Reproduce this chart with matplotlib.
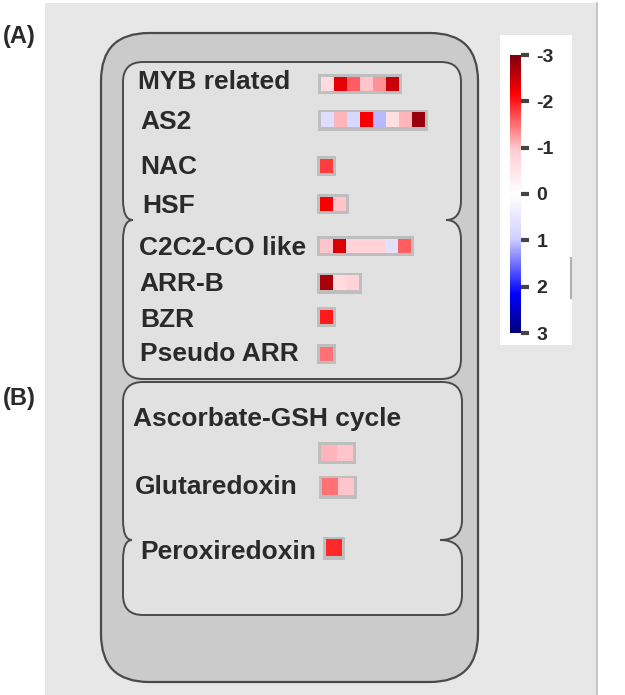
"""MapMan-style overview: transcription factor families (A) and redox genes (B)."""
import matplotlib
matplotlib.use("Agg")
import matplotlib.pyplot as plt
import numpy as np
from matplotlib.colors import LinearSegmentedColormap, Normalize
from matplotlib.patches import FancyBboxPatch, PathPatch, Rectangle
from matplotlib.path import Path

plt.rcParams["font.family"] = ["Liberation Sans", "DejaVu Sans"]

# ---- data (log2 fold change per gene) ----
labels = ["MYB related", "AS2", "NAC", "HSF", "C2C2-CO like", "ARR-B", "BZR",
          "Pseudo ARR", "Ascorbate-GSH cycle", "Glutaredoxin", "Peroxiredoxin"]
myb_related = [-0.7, -2.3, -1.6, -1.0, -1.3, -2.5]
as2 = [0.7, -1.1, 0.8, -2.2, 1.1, -0.6, -1.1, -2.8]
nac = [-1.8]
hsf = [-2.2, -1.0]
c2c2_co_like = [-1.0, -2.4, -0.8, -0.8, -0.8, 0.6, -1.6]
arr_b = [-2.7, -0.7, -0.8]
bzr = [-2.0]
pseudo_arr = [-1.5]
ascorbate_gsh = [-1.1, -1.0]
glutaredoxin = [-1.5, -1.0]
peroxiredoxin = [-1.9]
cbar_ticks = [-3, -2, -1, 0, 1, 2, 3]

rows = [myb_related, as2, nac, hsf, c2c2_co_like, arr_b, bzr, pseudo_arr,
        ascorbate_gsh, glutaredoxin, peroxiredoxin]

# ---- layout in pixels: label (x, y), cells (x, y centre, pitch, height) ----
label_pos = [(138, 82), (140, 122), (140, 167), (142, 206), (139, 248), (139, 284),
             (140, 320), (140, 354), (133, 419), (135, 487), (140, 552)]
cell_pos = [(321, 84, 13, 14), (321, 120, 13, 15), (320, 166, 13, 14), (320, 204, 13, 14),
            (320, 246, 13, 14), (320, 283, 13, 15), (320, 317, 13, 14), (320, 354, 13, 14),
            (321, 453, 16, 16), (322, 487, 16, 17), (326, 548, 16, 17)]

W, H = 625, 695
cmap = LinearSegmentedColormap.from_list(
    "mapman",
    [(0.0, "#7d0010"), (0.14, "#ff0000"), (0.34, "#ffccd2"), (0.5, "#ffffff"),
     (0.66, "#d0d0ff"), (0.86, "#0000ff"), (1.0, "#00007a")])
norm = Normalize(vmin=-3, vmax=3)
TXT = "#2a2a2a"
EDGE = "#4a4a4a"


def compartment(x0, y0, x1, y1, yn, dl, dr, r=20, rn=20):
    """Rounded box pinched inwards on both sides at height yn."""
    verts = [(x0 + r, y0), (x1 - r, y0),
             (x1, y0), (x1, y0 + r),
             (x1, yn - rn),
             (x1, yn), (x1 - dr, yn),
             (x1, yn), (x1, yn + rn),
             (x1, y1 - r),
             (x1, y1), (x1 - r, y1),
             (x0 + r, y1),
             (x0, y1), (x0, y1 - r),
             (x0, yn + rn),
             (x0, yn), (x0 + dl, yn),
             (x0, yn), (x0, yn - rn),
             (x0, y0 + r),
             (x0, y0), (x0 + r, y0),
             (x0 + r, y0)]
    C3, L = Path.CURVE3, Path.LINETO
    codes = [Path.MOVETO, L, C3, C3, L, C3, C3, C3, C3, L, C3, C3, L, C3, C3, L,
             C3, C3, C3, C3, L, C3, C3, Path.CLOSEPOLY]
    return Path(verts, codes)


fig = plt.figure(figsize=(W / 100, H / 100), dpi=100)
ax = fig.add_axes([0, 0, 1, 1])
ax.set_xlim(0, W)
ax.set_ylim(H, 0)
ax.axis("off")

# background panel and cell outline
ax.add_patch(Rectangle((45, 3), 552, 692, facecolor="#e7e7e7", edgecolor="none"))
ax.plot([597, 597], [3, 695], color="#bdbdbd", lw=1.2)
ax.add_patch(FancyBboxPatch((101, 33), 377, 649, boxstyle="round,pad=0,rounding_size=48",
                            facecolor="#cbcbcb", edgecolor=EDGE, lw=1.6))
ax.add_patch(PathPatch(compartment(123, 62, 461, 379, 220, 10, 15),
                       facecolor="#e1e1e1", edgecolor=EDGE, lw=1.4))
ax.add_patch(PathPatch(compartment(123, 382, 462, 615, 540, 9, 22),
                       facecolor="#e1e1e1", edgecolor=EDGE, lw=1.4))

for lab, (lx, ly), vals, (cx, cy, pitch, ch) in zip(labels, label_pos, rows, cell_pos):
    ax.text(lx, ly, lab, fontsize=19, fontweight="bold", color=TXT, ha="left", va="center")
    n = len(vals)
    ax.add_patch(Rectangle((cx - 3, cy - ch / 2 - 3), n * pitch + 6, ch + 6,
                           facecolor="#bebebe", edgecolor="none", zorder=2))
    ax.imshow(np.array([vals]), cmap=cmap, norm=norm, aspect="auto", interpolation="nearest",
              extent=(cx, cx + n * pitch, cy + ch / 2, cy - ch / 2), zorder=3)

ax.set_xlim(0, W)
ax.set_ylim(H, 0)

ax.text(3, 37, "(A)", fontsize=17, fontweight="bold", color=TXT, ha="left", va="center")
ax.text(3, 398, "(B)", fontsize=17, fontweight="bold", color=TXT, ha="left", va="center")

# legend
ax.add_patch(Rectangle((500, 35), 72, 310, facecolor="white", edgecolor="none"))
ax.plot([571, 571], [258, 298], color="#b0b0b0", lw=1.5)
cax = fig.add_axes([510 / W, 1 - 333 / H, 11 / W, 278 / H])
sm = matplotlib.cm.ScalarMappable(norm=norm, cmap=cmap)
cb = fig.colorbar(sm, cax=cax, ticks=cbar_ticks)
cb.ax.invert_yaxis()
cb.outline.set_visible(False)
cb.ax.tick_params(length=6, width=3, color="#444444", pad=5, labelsize=14)
cb.ax.set_yticklabels([str(v) for v in cbar_ticks], fontweight="bold", color=TXT)

fig.savefig("out.png", dpi=100)
plt.close(fig)
